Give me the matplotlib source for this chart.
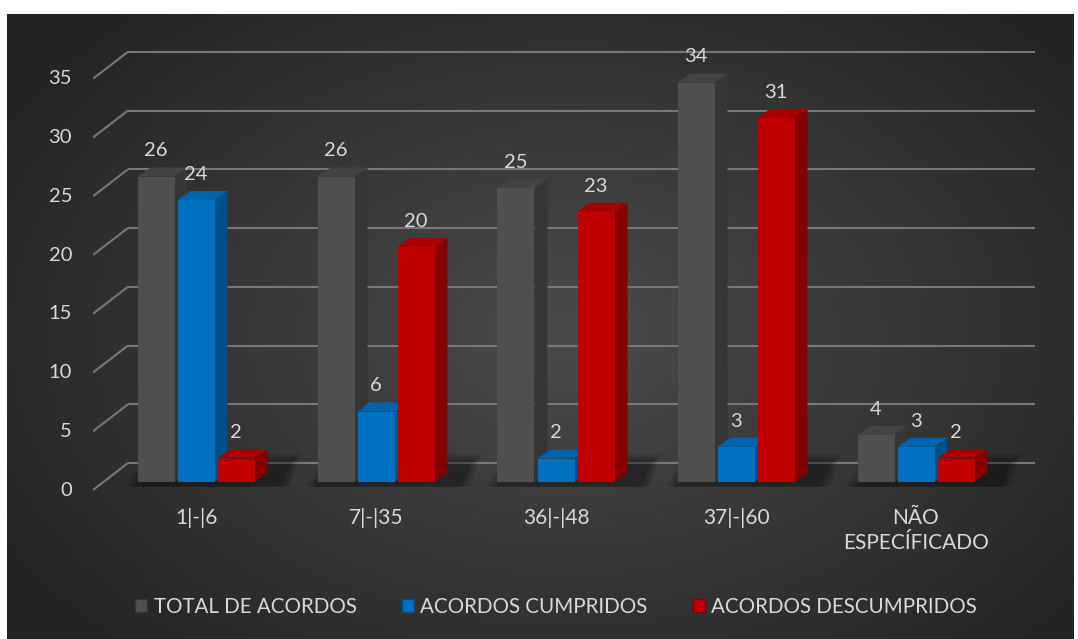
import numpy as np
import matplotlib.pyplot as plt
from matplotlib.patches import Polygon, Patch

plt.rcParams['font.family'] = ['Lato', 'DejaVu Sans']

categories = ['1|-|6', '7|-|35', '36|-|48', '37|-|60', 'NÃO\nESPECÍFICADO']
series_names = ['TOTAL DE ACORDOS', 'ACORDOS CUMPRIDOS', 'ACORDOS DESCUMPRIDOS']
total = [26, 26, 25, 34, 4]
cumpridos = [24, 6, 2, 3, 3]
descumpridos = [2, 20, 23, 31, 2]
y_ticks = [0, 5, 10, 15, 20, 25, 30, 35]

front_colors = ['#4f4f4f', '#0070c0', '#c00000']
side_colors = ['#363636', '#004f88', '#850000']
top_colors = ['#434343', '#0063ab', '#a80000']
text_color = '#d9d9d9'
grid_color = '#787878'

W, H = 1078, 639
fig = plt.figure(figsize=(W / 100, H / 100), dpi=100, facecolor='white')

# radial dark background, slight white margin on left/top/right like the source
bg = fig.add_axes([7 / W, 0, 1067 / W, 625 / H])
yy, xx = np.mgrid[0:625, 0:1067]
r = np.sqrt(((xx - 560) / 640.) ** 2 + ((yy - 320) / 430.) ** 2)
shade = np.clip(0x4b - (0x4b - 0x25) * r, 0x23, 0x4b) / 255.
bg.imshow(np.dstack([shade] * 3), aspect='auto', interpolation='bilinear')
bg.axis('off')

# main axes: 180 px per category, 11.75 px per unit, bar base at y=482 px
PX_X, PX_Y = 180., 11.75
ax = fig.add_axes([93 / W, (H - 500) / H, 942 / W, 470 / H])
ax.patch.set_alpha(0)
x_lo, x_hi = (93 - 196) / PX_X, (1035 - 196) / PX_X
ax.set_xlim(x_lo, x_hi)
ax.set_ylim((482 - 500) / PX_Y, (482 - 30) / PX_Y)
for s in ax.spines.values():
    s.set_visible(False)

# 3d depth of bars and floor (in data units)
DX, DY = 13 / PX_X, 9 / PX_Y
FL_DX = 35 / PX_X
FL_FRONT, FL_BACK = -8 / PX_Y, 19 / PX_Y

for g in y_ticks:
    ax.plot([x_lo, x_lo + FL_DX], [g + FL_FRONT, g + FL_BACK], color=grid_color, lw=1.5, zorder=1,
            solid_capstyle='butt')
    ax.plot([x_lo + FL_DX, x_hi], [g + FL_BACK, g + FL_BACK], color=grid_color, lw=1.5, zorder=1,
            solid_capstyle='butt')
    ax.text((72 - 196) / PX_X, g - 0.7, str(g), ha='right', va='center', color=text_color, fontsize=14.5)

bw, slot = 37 / PX_X, 40 / PX_X
xs = np.arange(len(categories))

# soft shadow on the floor behind each group
for c in xs:
    for k in range(6):
        grow = k * 0.012
        ax.add_patch(Polygon([(c - 1.5 * slot - grow, -0.4), (c + 1.5 * slot + DX + 0.06 + grow, -0.4),
                              (c + 1.5 * slot + DX + 0.12 + grow, DY + 0.9 + k * 0.15),
                              (c - 1.5 * slot + DX + 0.05 - grow, DY + 0.9 + k * 0.15)],
                             closed=True, facecolor='black', edgecolor='none', alpha=0.07, zorder=2))

for i, vals in enumerate([total, cumpridos, descumpridos]):
    xpos = xs + (i - 1) * slot
    ax.bar(xpos, vals, width=bw, color=front_colors[i], zorder=4 + 2 * i)
    for x, v in zip(xpos, vals):
        l, rr = x - bw / 2, x + bw / 2
        ax.add_patch(Polygon([(rr, 0), (rr + DX, DY), (rr + DX, v + DY), (rr, v)], closed=True,
                             facecolor=side_colors[i], edgecolor='none', zorder=3 + 2 * i))
        ax.add_patch(Polygon([(l, v), (l + DX, v + DY), (rr + DX, v + DY), (rr, v)], closed=True,
                             facecolor=top_colors[i], edgecolor='none', zorder=3 + 2 * i))
        ax.annotate(str(v), (x, v), xytext=(0, 18.5), textcoords='offset points', ha='center',
                    va='center', color=text_color, fontsize=14.5, zorder=20)

ax.set_yticks([])
ax.set_xticks(xs, categories)
ax.tick_params(axis='x', length=0, pad=6, colors=text_color, labelsize=15)
for lab in ax.get_xticklabels():
    lab.set_multialignment('center')
    lab.set_linespacing(1.3)

handles = [Patch(facecolor=front_colors[i], edgecolor=side_colors[i], lw=1) for i in range(3)]
fig.legend(handles, series_names, loc='center', bbox_to_anchor=(556 / W, (H - 607) / H), ncol=3,
           frameon=False, fontsize=14.8, labelcolor=text_color, handlelength=0.6, handleheight=0.6,
           handletextpad=0.3, columnspacing=2.2)

fig.savefig('out.png', dpi=100, facecolor='white')
